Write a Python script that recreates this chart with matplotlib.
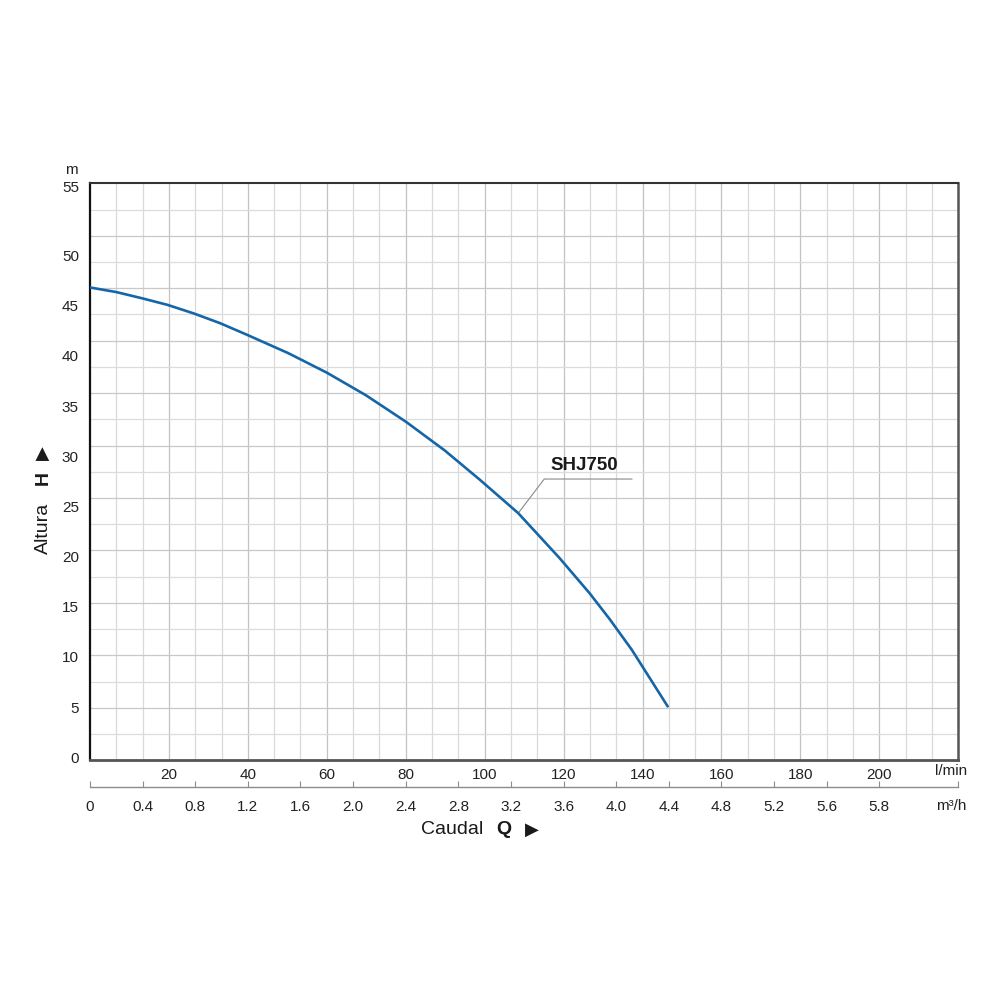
import numpy as np
import matplotlib
matplotlib.use('Agg')
import matplotlib.pyplot as plt

# ---- data ----
flow_lpm = [0, 6.67, 13.0, 19.6, 26.3, 32.9, 39.8, 50.2, 60.0, 69.9, 80.0, 89.9,
            98.8, 108.5, 119.0, 126.6, 131.7, 137.3, 146.5]
head_m = [46.82, 46.36, 45.76, 45.09, 44.23, 43.27, 42.10, 40.28, 38.33, 36.08, 33.45,
          30.57, 27.65, 24.33, 19.84, 16.34, 13.75, 10.70, 4.99]

lpm_ticks = [20, 40, 60, 80, 100, 120, 140, 160, 180, 200]
m3h_labels = ['0', '0.4', '0.8', '1.2', '1.6', '2.0', '2.4', '2.8', '3.2', '3.6',
              '4.0', '4.4', '4.8', '5.2', '5.6', '5.8']
head_ticks = [0, 5, 10, 15, 20, 25, 30, 35, 40, 45, 50]
head_top_label = '55'
model_name = 'SHJ750'
label_point = (108.5, 24.33)

plt.rcParams['font.family'] = ['Liberation Sans', 'DejaVu Sans']

fig = plt.figure(figsize=(10, 10), dpi=100)
ax = fig.add_axes([0.090, 0.2397, 0.8683, 0.577])

XMAX = 220
YMIN, YMAX = -0.3, 57.2
ax.set_xlim(0, XMAX)
ax.set_ylim(YMIN, YMAX)

# grid
xgrid = np.arange(1, 33) * (20 / 3)
for i, xv in enumerate(xgrid, start=1):
    c = '#c2c2c2' if i % 3 == 0 else '#d9d9d9'
    ax.axvline(xv, color=c, lw=0.9, zorder=0)
ystep = (YMAX - YMIN) / 22
for i in range(1, 22):
    c = '#c8c8c8' if i % 2 == 0 else '#dcdcdc'
    ax.axhline(YMIN + i * ystep, color=c, lw=0.9, zorder=0)

# curve
ax.plot(flow_lpm, head_m, color='#1566a8', lw=1.9, zorder=3,
        solid_capstyle='butt', solid_joinstyle='round')

# annotation
lx, ly = label_point
ax.plot([lx, lx + 6.6, lx + 28.8], [ly, ly + 3.4, ly + 3.4], color='#8a8a8a', lw=0.8, zorder=2)
ax.text(lx + 16.7, ly + 4.7, model_name, fontsize=13.5, fontweight='bold',
        ha='center', va='center', color='#1a1a1a')

# ticks
ax.set_xticks(lpm_ticks)
ax.set_xticklabels([str(v) for v in lpm_ticks])
ax.set_yticks(head_ticks + [56.9])
ax.set_yticklabels([str(v) for v in head_ticks] + [head_top_label])
ax.tick_params(axis='both', length=0, labelsize=11, colors='#222222')
ax.tick_params(axis='x', pad=5.5)
ax.tick_params(axis='y', pad=8)

for s, (c, w) in {'left': ('#111111', 1.6), 'bottom': ('#555555', 2.0),
                  'top': ('#333333', 1.5), 'right': ('#555555', 1.8)}.items():
    ax.spines[s].set_color(c)
    ax.spines[s].set_linewidth(w)

# secondary (m3/h) scale
ax2 = fig.add_axes([0.090, 0.213, 0.8683, 0.0267])
ax2.set_xlim(0, XMAX)
ax2.set_ylim(0, 1)
ax2.patch.set_alpha(0)
for s in ['left', 'right', 'top']:
    ax2.spines[s].set_visible(False)
ax2.spines['bottom'].set_color('#8c8c8c')
ax2.spines['bottom'].set_linewidth(1.0)
m3h_pos = list(np.arange(len(m3h_labels)) * (40 / 3))
ax2.set_xticks(m3h_pos + [XMAX])
ax2.set_xticklabels(m3h_labels + [''])
ax2.set_yticks([])
ax2.tick_params(axis='x', direction='in', length=4, width=0.8, color='#8c8c8c',
                labelsize=11, labelcolor='#222222', pad=9.5)

# unit labels
fig.text(0.951, 1 - 0.771, 'l/min', fontsize=11, ha='center', va='center', color='#222222')
fig.text(0.951, 1 - 0.806, 'm³/h', fontsize=11, ha='center', va='center', color='#222222')
fig.text(0.071, 1 - 0.170, 'm', fontsize=11, ha='center', va='center', color='#222222')

# axis titles
fig.text(0.452, 1 - 0.830, 'Caudal', fontsize=14, ha='center', va='center', color='#1a1a1a')
fig.text(0.504, 1 - 0.830, 'Q', fontsize=14, fontweight='bold', ha='center', va='center', color='#1a1a1a')
fig.text(0.532, 1 - 0.830, '▶', fontsize=13, ha='center', va='center', color='#1a1a1a',
         family=['DejaVu Sans'])
fig.text(0.043, 1 - 0.528, 'Altura', fontsize=14, rotation=90, ha='center', va='center', color='#1a1a1a')
fig.text(0.043, 1 - 0.478, 'H', fontsize=14, fontweight='bold', rotation=90, ha='center', va='center', color='#1a1a1a')
fig.text(0.043, 1 - 0.453, '▶', fontsize=13, rotation=90, ha='center', va='center', color='#1a1a1a',
         family=['DejaVu Sans'])

fig.savefig('out.png', dpi=100, facecolor='white')
